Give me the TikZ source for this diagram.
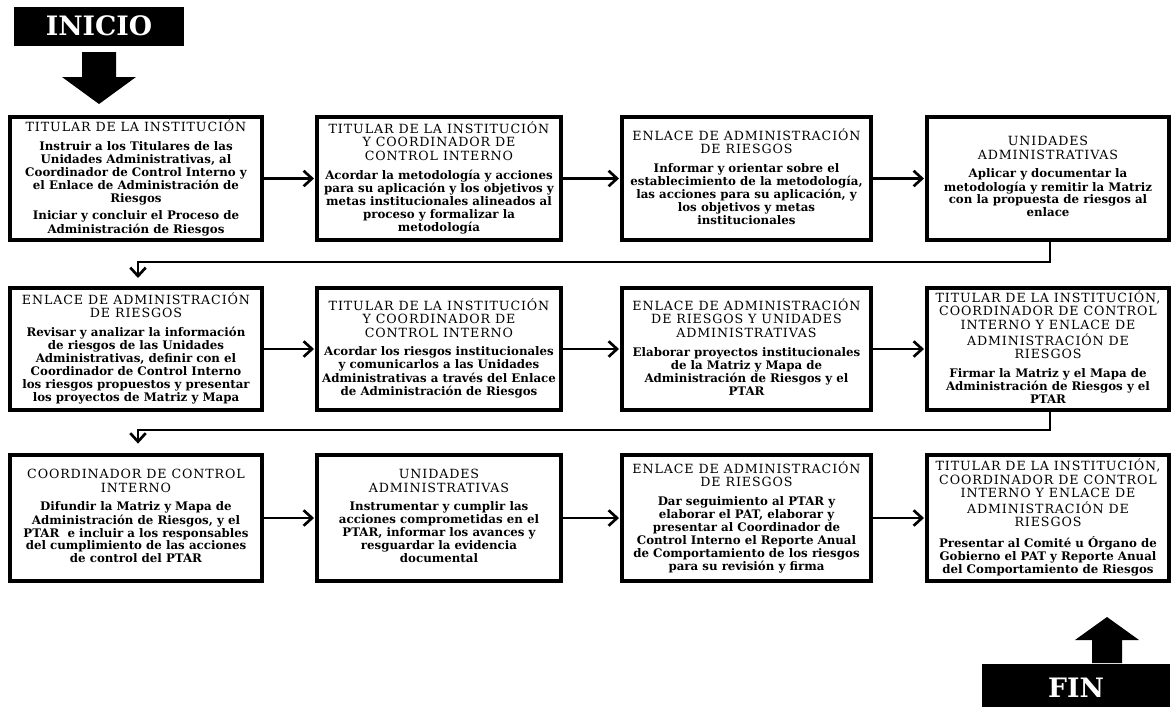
\documentclass[tikz,border=0pt]{standalone}
\usepackage{fontspec}
\setmainfont{DejaVu Serif}
\newfontfamily\titfont[LetterSpace=7]{DejaVu Serif}
\usetikzlibrary{arrows.meta}
\newcommand{\titulo}[1]{{\titfont\fontsize{9}{9.5}\selectfont\begin{tabular}{@{}c@{}}#1\end{tabular}}}
\newcommand{\cuerpo}[1]{{\fontsize{8.4}{9.2}\selectfont\bfseries\begin{tabular}{@{}c@{}}#1\end{tabular}}}
\begin{document}
\begin{tikzpicture}[x=0.025cm,y=-0.025cm,
	caja/.style={draw,line width=2.2pt,align=center,inner sep=1pt},
	flecha/.style={line width=1.9pt,-{Straight Barb[length=6pt,width=11pt]}},
	negro/.style={fill=black,text=white,font=\fontsize{19}{22}\selectfont\bfseries,inner sep=0pt}]
	\useasboundingbox (0,0) rectangle (1172,706);
	% inicio y fin
	\node[negro,minimum width=4.25cm,minimum height=0.975cm] (inicio) at (99,26) {INICIO};
	\fill (82,52) -- (116,52) -- (116,77) -- (136,77) -- (99,104) -- (62,77) -- (82,77) -- cycle;
	\node[negro,minimum width=4.7cm,minimum height=1.2cm] (fin) at (1076,688) {FIN};
	\fill (1092,663) -- (1122,663) -- (1122,640) -- (1139,640) -- (1107,617) -- (1075,640) -- (1092,640) -- cycle;
	% fila 1
	\node[caja,minimum width=6.3cm,minimum height=3.075cm] (b1) at (136,178.5) {\titulo{TITULAR DE LA INSTITUCIÓN}\\[3pt]
		\cuerpo{Instruir a los Titulares de las\\ Unidades Administrativas, al\\ Coordinador de Control Interno y\\ el Enlace de Administración de\\ Riesgos\\[3pt]
		Iniciar y concluir el Proceso de\\ Administración de Riesgos}};
	\node[caja,minimum width=6.1cm,minimum height=3.075cm] (b2) at (439,178.5) {\titulo{TITULAR DE LA INSTITUCIÓN\\ Y COORDINADOR DE\\ CONTROL INTERNO}\\[3pt]
		\cuerpo{Acordar la metodología y acciones\\ para su aplicación y los objetivos y\\ metas institucionales alineados al\\ proceso y formalizar la\\ metodología}};
	\node[caja,minimum width=6.225cm,minimum height=3.075cm] (b3) at (746.5,178.5) {\titulo{ENLACE DE ADMINISTRACIÓN\\ DE RIESGOS}\\[3pt]
		\cuerpo{Informar y orientar sobre el\\ establecimiento de la metodología,\\ las acciones para su aplicación, y\\ los objetivos y metas\\ institucionales}};
	\node[caja,minimum width=6.05cm,minimum height=3.075cm] (b4) at (1048,178.5) {\titulo{UNIDADES\\ ADMINISTRATIVAS}\\[3pt]
		\cuerpo{Aplicar y documentar la\\ metodología y remitir la Matriz\\ con la propuesta de riesgos al\\ enlace}};
	% fila 2
	\node[caja,minimum width=6.3cm,minimum height=3.05cm] (b5) at (136,349) {\titulo{ENLACE DE ADMINISTRACIÓN\\ DE RIESGOS}\\[3pt]
		\cuerpo{Revisar y analizar la información\\ de riesgos de las Unidades\\ Administrativas, definir con el\\ Coordinador de Control Interno\\ los riesgos propuestos y presentar\\ los proyectos de Matriz y Mapa}};
	\node[caja,minimum width=6.1cm,minimum height=3.05cm] (b6) at (439,349) {\titulo{TITULAR DE LA INSTITUCIÓN\\ Y COORDINADOR DE\\ CONTROL INTERNO}\\[3pt]
		\cuerpo{Acordar los riesgos institucionales\\ y comunicarlos a las Unidades\\ Administrativas a través del Enlace\\ de Administración de Riesgos}};
	\node[caja,minimum width=6.225cm,minimum height=3.05cm] (b7) at (746.5,349) {\titulo{ENLACE DE ADMINISTRACIÓN\\ DE RIESGOS Y UNIDADES\\ ADMINISTRATIVAS}\\[3pt]
		\cuerpo{Elaborar proyectos institucionales\\ de la Matriz y Mapa de\\ Administración de Riesgos y el\\ PTAR}};
	\node[caja,minimum width=6.05cm,minimum height=3.05cm] (b8) at (1048,349) {\titulo{TITULAR DE LA INSTITUCIÓN,\\ COORDINADOR DE CONTROL\\ INTERNO Y ENLACE DE\\ ADMINISTRACIÓN DE\\ RIESGOS}\\[3pt]
		\cuerpo{Firmar la Matriz y el Mapa de\\ Administración de Riesgos y el\\ PTAR}};
	% fila 3
	\node[caja,minimum width=6.3cm,minimum height=3.15cm] (b9) at (136,518) {\titulo{COORDINADOR DE CONTROL\\ INTERNO}\\[3pt]
		\cuerpo{Difundir la Matriz y Mapa de\\ Administración de Riesgos, y el\\ PTAR\ \ e incluir a los responsables\\ del cumplimiento de las acciones\\ de control del PTAR}};
	\node[caja,minimum width=6.1cm,minimum height=3.15cm] (b10) at (439,518) {\titulo{UNIDADES\\ ADMINISTRATIVAS}\\[3pt]
		\cuerpo{Instrumentar y cumplir las\\ acciones comprometidas en el\\ PTAR, informar los avances y\\ resguardar la evidencia\\ documental}};
	\node[caja,minimum width=6.225cm,minimum height=3.15cm] (b11) at (746.5,518) {\titulo{ENLACE DE ADMINISTRACIÓN\\ DE RIESGOS}\\[3pt]
		\cuerpo{Dar seguimiento al PTAR y\\ elaborar el PAT, elaborar y\\ presentar al Coordinador de\\ Control Interno el Reporte Anual\\ de Comportamiento de los riesgos\\ para su revisión y firma}};
	\node[caja,minimum width=6.05cm,minimum height=3.15cm] (b12) at (1048,518) {\titulo{TITULAR DE LA INSTITUCIÓN,\\ COORDINADOR DE CONTROL\\ INTERNO Y ENLACE DE\\ ADMINISTRACIÓN DE\\ RIESGOS}\\[3pt]
		\cuerpo{Presentar al Comité u Órgano de\\ Gobierno el PAT y Reporte Anual\\ del Comportamiento de Riesgos}};
	% flechas
	\draw[flecha,shorten >=1pt] (b1) -- (b2);
	\draw[flecha,shorten >=1pt] (b2) -- (b3);
	\draw[flecha,shorten >=1pt] (b3) -- (b4);
	\draw[flecha,shorten >=1pt] (b5) -- (b6);
	\draw[flecha,shorten >=1pt] (b6) -- (b7);
	\draw[flecha,shorten >=1pt] (b7) -- (b8);
	\draw[flecha,shorten >=1pt] (b9) -- (b10);
	\draw[flecha,shorten >=1pt] (b10) -- (b11);
	\draw[flecha,shorten >=1pt] (b11) -- (b12);
	\coordinate (k1) at (1050,262);
	\coordinate (k2) at (138,262);
	\coordinate (k3) at (1050,430);
	\coordinate (k4) at (138,430);
	\draw[flecha,shorten >=6pt] (b4.south -| k1) -- (k1) -- (k2) -- (k2 |- b5.north);
	\draw[flecha,shorten >=7pt] (b8.south -| k3) -- (k3) -- (k4) -- (k4 |- b9.north);
\end{tikzpicture}
\end{document}
